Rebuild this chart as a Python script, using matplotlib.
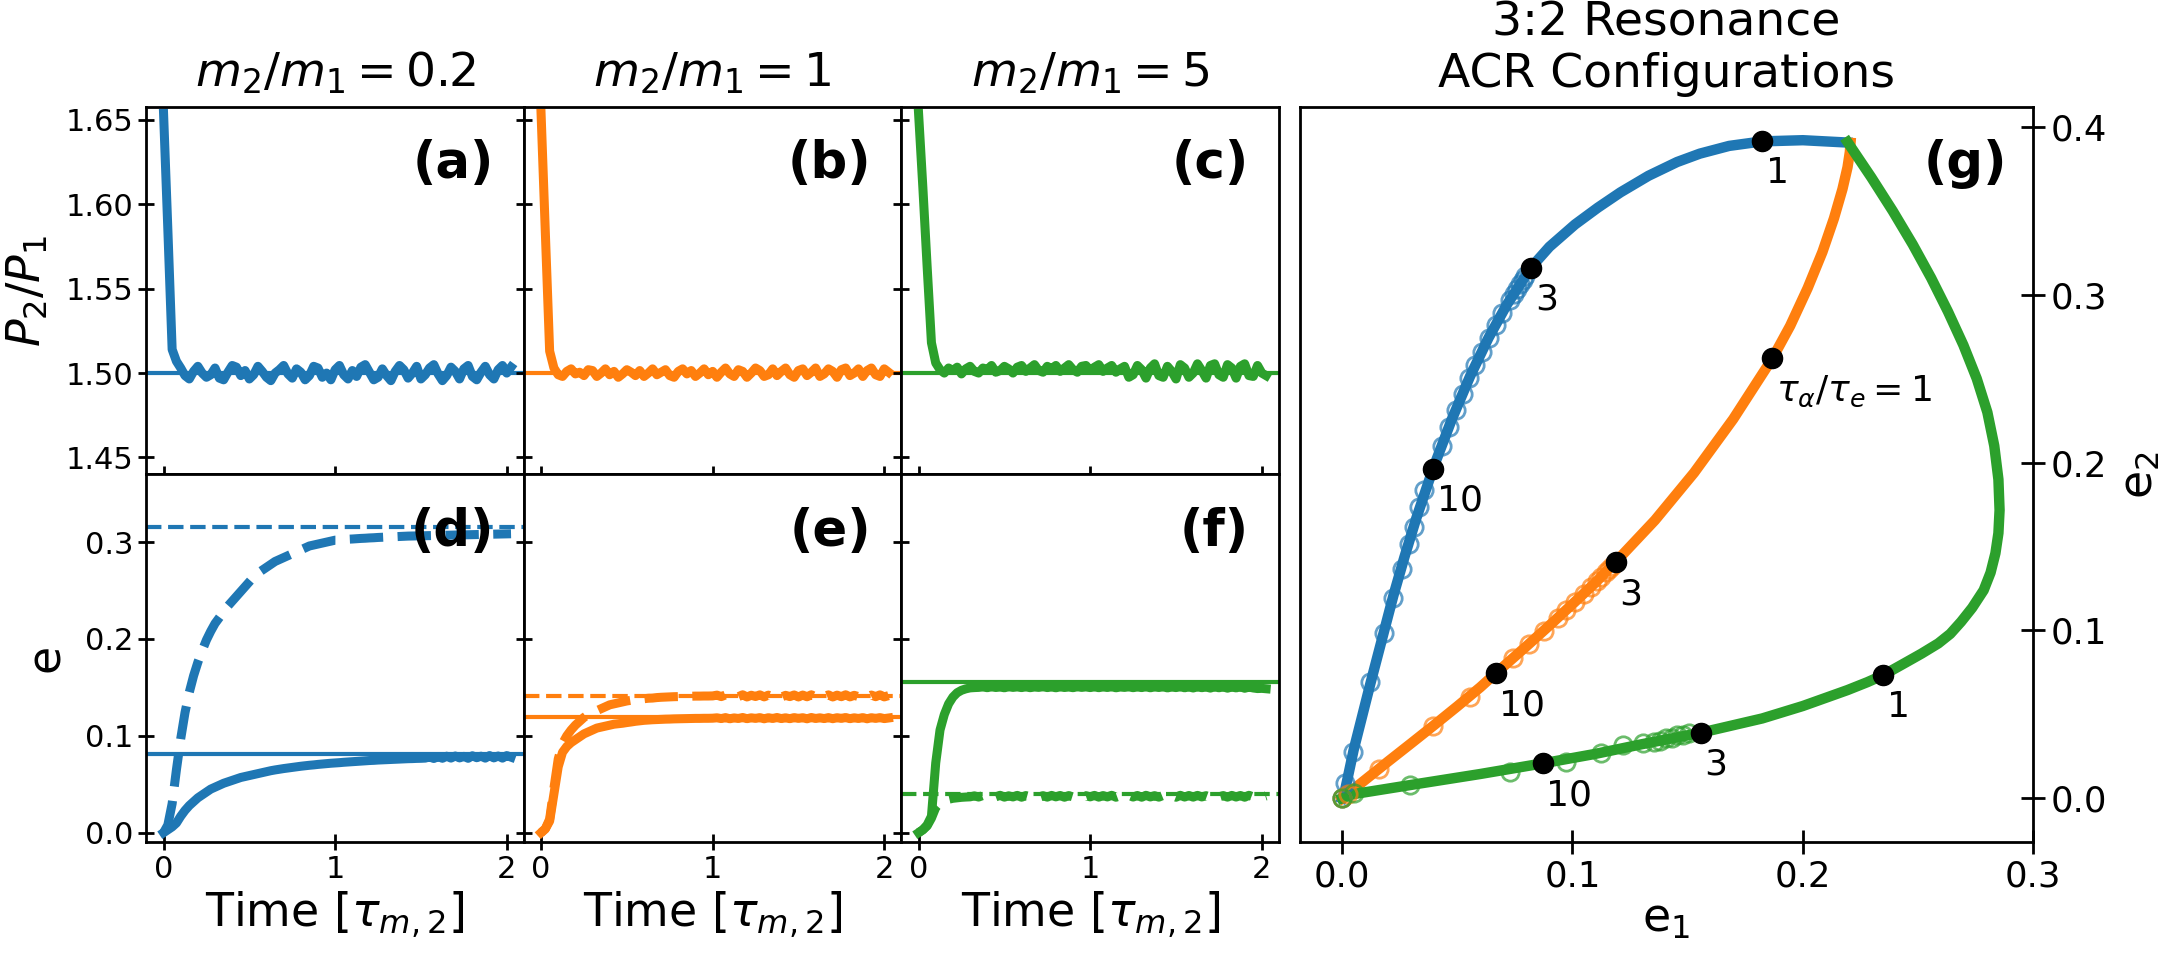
import numpy as np
import matplotlib
matplotlib.use("Agg")
import matplotlib.pyplot as plt

plt.rcParams['font.family'] = ['DejaVu Sans']
plt.rcParams['mathtext.fontset'] = 'dejavusans'

C0, C1, C2 = '#1f77b4', '#ff7f0e', '#2ca02c'

# ---------------- time grid (units of tau_m,2) ----------------
time = np.round(np.arange(0, 2.026, 0.025), 3)

# ---------------- period ratio P2/P1 ----------------
p_ratio_02 = [1.654, 1.585, 1.514, 1.507, 1.503,
    1.4985, 1.4965, 1.5010, 1.5040, 1.5000, 1.4975, 1.4990, 1.5030, 1.4970, 1.4960,
    1.5005, 1.5045, 1.5035, 1.4985, 1.5015, 1.4965, 1.4990, 1.5040, 1.5010, 1.4975,
    1.4955, 1.5000, 1.5020, 1.5045, 1.4995, 1.4970, 1.5025, 1.5005, 1.4960, 1.4985,
    1.5040, 1.5030, 1.4975, 1.5000, 1.4960, 1.5020,
    1.5045, 1.4990, 1.4965, 1.5015, 1.4980, 1.5035, 1.5050, 1.5005, 1.4960, 1.4975,
    1.5025, 1.4985, 1.4955, 1.5010, 1.5045, 1.5020, 1.4970, 1.5000, 1.5040, 1.4965,
    1.4990, 1.5030, 1.5050, 1.4995, 1.4955, 1.4985, 1.5035, 1.5010, 1.4965, 1.5025,
    1.5045, 1.4980, 1.4960, 1.5005, 1.5040, 1.4990, 1.4965, 1.5020, 1.5045, 1.5000,
    1.5035]
p_ratio_1 = [1.654, 1.583, 1.513, 1.503, 1.4990,
    1.4980, 1.5010, 1.5025, 1.4995, 1.5005, 1.4985, 1.5020, 1.5015, 1.4980, 1.5000,
    1.5025, 1.4990, 1.5010, 1.4975, 1.4995, 1.5020, 1.5005, 1.4985, 1.5015, 1.4980,
    1.5000, 1.5025, 1.4990, 1.5005, 1.5020, 1.4985, 1.4975, 1.5010, 1.5025, 1.4995,
    1.5015, 1.4980, 1.5000, 1.5025, 1.4990, 1.5010,
    1.4975, 1.5005, 1.5030, 1.4995, 1.4980, 1.5020, 1.5010, 1.4975, 1.5000, 1.5030,
    1.5015, 1.4980, 1.4990, 1.5025, 1.4985, 1.5010, 1.5030, 1.4990, 1.4975, 1.5015,
    1.5025, 1.4985, 1.5005, 1.5030, 1.4980, 1.4995, 1.5025, 1.5010, 1.4975, 1.5020,
    1.5030, 1.4985, 1.5000, 1.5025, 1.4980, 1.5015, 1.5030, 1.4990, 1.4980, 1.5025,
    1.5005]
p_ratio_5 = [1.654, 1.610, 1.563, 1.518, 1.506,
    1.5020, 1.5000, 1.5030, 1.5015, 1.5035, 1.4995, 1.5025, 1.5040, 1.5010, 1.5000,
    1.5030, 1.5020, 1.5045, 1.5005, 1.5015, 1.5040, 1.5025, 1.5000, 1.5035, 1.5045,
    1.5010, 1.5030, 1.5050, 1.5015, 1.5005, 1.5040, 1.5025, 1.5045, 1.5010, 1.5030,
    1.5050, 1.5020, 1.5005, 1.5040, 1.5045, 1.5015,
    1.5035, 1.5050, 1.5010, 1.5030, 1.5045, 1.5005, 1.5025, 1.5040, 1.4975, 1.4990,
    1.5045, 1.5020, 1.4970, 1.5030, 1.5055, 1.4985, 1.4975, 1.5040, 1.5010, 1.4965,
    1.5050, 1.5030, 1.4975, 1.5000, 1.5055, 1.5015, 1.4970, 1.5045, 1.5055, 1.4990,
    1.4975, 1.5050, 1.5030, 1.4970, 1.5040, 1.5055, 1.4985, 1.4980, 1.5045, 1.5000,
    1.4985]

# ---------------- eccentricities ----------------
e1_02 = [0.000, 0.003, 0.006, 0.010, 0.017, 0.023, 0.028, 0.032, 0.036, 0.039,
    0.042, 0.045, 0.047, 0.049, 0.051, 0.0525, 0.054, 0.0555, 0.057, 0.058,
    0.059, 0.060, 0.061, 0.062, 0.063, 0.064, 0.0648, 0.0655, 0.0662, 0.0668,
    0.0674, 0.068, 0.0686, 0.0691, 0.0696, 0.070, 0.0705, 0.0709, 0.0713, 0.0717,
    0.072,
    0.0723, 0.0727, 0.073, 0.0733, 0.0736, 0.0739, 0.0742, 0.0745, 0.0747, 0.0750,
    0.0752, 0.0754, 0.0756, 0.0758, 0.0760, 0.0762, 0.0764, 0.0765, 0.0767, 0.0768,
    0.0770, 0.0782, 0.0766, 0.0786, 0.0768, 0.0790, 0.0770, 0.0792, 0.0772, 0.0788,
    0.0768, 0.0794, 0.0774, 0.0790, 0.0770, 0.0796, 0.0772, 0.0792, 0.0770, 0.0796,
    0.0780]
e2_02 = [0.000, 0.008, 0.030, 0.065, 0.097, 0.124, 0.145, 0.162, 0.176, 0.188,
    0.199, 0.208, 0.216, 0.222, 0.228, 0.234, 0.239, 0.244, 0.249, 0.254,
    0.259, 0.264, 0.268, 0.271, 0.274, 0.277, 0.280, 0.282, 0.284, 0.286,
    0.288, 0.290, 0.292, 0.294, 0.296, 0.297, 0.298, 0.299, 0.300, 0.301,
    0.302,
    0.302, 0.3025, 0.303, 0.3032, 0.3035, 0.3038, 0.304, 0.3043, 0.3045, 0.3048,
    0.305, 0.3052, 0.3054, 0.3056, 0.3058, 0.306, 0.3062, 0.3063, 0.3064, 0.3065,
    0.3066, 0.3067, 0.3068, 0.3069, 0.307, 0.3071, 0.3072, 0.3073, 0.3074, 0.3075,
    0.3076, 0.3077, 0.3078, 0.3079, 0.308, 0.3081, 0.3082, 0.3083, 0.3084, 0.3085,
    0.3086]
e1_1 = [0.000, 0.004, 0.012, 0.040, 0.068, 0.083, 0.089, 0.093, 0.096, 0.099,
    0.102, 0.104, 0.106, 0.108, 0.109, 0.110, 0.111, 0.112, 0.1125, 0.113,
    0.1137, 0.1143, 0.115, 0.1155, 0.116, 0.1163, 0.1166, 0.1168, 0.117, 0.1172,
    0.1173, 0.1175, 0.1176, 0.1177, 0.1178, 0.1179, 0.118, 0.118, 0.1181, 0.1181,
    0.1182,
    0.1186, 0.1178, 0.1188, 0.1176, 0.1185, 0.1179, 0.1189, 0.1177, 0.1186, 0.1180,
    0.1188, 0.1176, 0.1187, 0.1179, 0.1189, 0.1178, 0.1186, 0.1177, 0.1188, 0.1180,
    0.1187, 0.1176, 0.1189, 0.1179, 0.1186, 0.1178, 0.1188, 0.1177, 0.1187, 0.1180,
    0.1189, 0.1177, 0.1186, 0.1179, 0.1188, 0.1176, 0.1187, 0.1180, 0.1188, 0.1178,
    0.1184]
e2_1 = [0.000, 0.004, 0.014, 0.046, 0.076, 0.092, 0.100, 0.106, 0.111, 0.115,
    0.119, 0.122, 0.124, 0.126, 0.128, 0.130, 0.132, 0.133, 0.134, 0.135,
    0.136, 0.1367, 0.1373, 0.1378, 0.1383, 0.1388, 0.139, 0.1395, 0.1398, 0.140,
    0.1402, 0.1404, 0.1405, 0.1407, 0.1408, 0.1409, 0.141, 0.141, 0.1411, 0.1411,
    0.1412,
    0.1420, 0.1405, 0.1422, 0.1402, 0.1418, 0.1404, 0.1424, 0.1401, 0.1419, 0.1406,
    0.1423, 0.1402, 0.1420, 0.1404, 0.1424, 0.1400, 0.1418, 0.1405, 0.1422, 0.1401,
    0.1421, 0.1403, 0.1424, 0.1402, 0.1419, 0.1405, 0.1423, 0.1401, 0.1420, 0.1404,
    0.1424, 0.1402, 0.1418, 0.1405, 0.1422, 0.1400, 0.1421, 0.1404, 0.1423, 0.1402,
    0.1415]
e1_5 = [0.000, 0.003, 0.008, 0.017, 0.072, 0.106, 0.122, 0.133, 0.140, 0.1445,
    0.147, 0.1485, 0.1495, 0.1498, 0.150,
    0.1505, 0.1497, 0.1506, 0.1499, 0.1504, 0.1496, 0.1507, 0.1500, 0.1505, 0.1498,
    0.1506, 0.1497, 0.1504, 0.1500, 0.1507, 0.1498, 0.1505, 0.1496, 0.1506, 0.1499,
    0.1504, 0.1497, 0.1507, 0.1500, 0.1505, 0.1498,
    0.1506, 0.1497, 0.1505, 0.1499, 0.1507, 0.1496, 0.1504, 0.1500, 0.1506, 0.1497,
    0.1505, 0.1498, 0.1507, 0.1496, 0.1505, 0.1499, 0.1506, 0.1495, 0.1504, 0.1498,
    0.1507, 0.1496, 0.1505, 0.1494, 0.1506, 0.1497, 0.1504, 0.1493, 0.1506, 0.1496,
    0.1505, 0.1492, 0.1504, 0.1495, 0.1506, 0.1491, 0.1503, 0.1494, 0.1488, 0.1490,
    0.1486]
e2_5 = [0.000, 0.003, 0.007, 0.015, 0.026, 0.031, 0.033, 0.0345, 0.0355, 0.036,
    0.0365, 0.0368, 0.037,
    0.0380, 0.0368, 0.0384, 0.0366, 0.0382, 0.0370, 0.0386, 0.0367, 0.0381, 0.0369,
    0.0385, 0.0366, 0.0383, 0.0371, 0.0386, 0.0368, 0.0382, 0.0367, 0.0385, 0.0370,
    0.0384, 0.0366, 0.0383, 0.0369, 0.0386, 0.0367, 0.0382, 0.0370,
    0.0385, 0.0367, 0.0383, 0.0369, 0.0386, 0.0366, 0.0382, 0.0370, 0.0385, 0.0368,
    0.0384, 0.0366, 0.0386, 0.0369, 0.0382, 0.0367, 0.0385, 0.0370, 0.0383, 0.0366,
    0.0386, 0.0368, 0.0384, 0.0367, 0.0385, 0.0369, 0.0382, 0.0366, 0.0386, 0.0370,
    0.0383, 0.0367, 0.0385, 0.0368, 0.0384, 0.0366, 0.0386, 0.0369, 0.0383, 0.0367,
    0.0380]

# ACR (equilibrium) eccentricities for each mass ratio
acr_e1 = [0.0813, 0.119, 0.156]
acr_e2 = [0.316, 0.1415, 0.040]

mass_ratio_titles = [r'$m_2/m_1 = 0.2$', r'$m_2/m_1 = 1$', r'$m_2/m_1 = 5$']
top_letters = ['(a)', '(b)', '(c)']
bottom_letters = ['(d)', '(e)', '(f)']

# ---------------- panel (g): ACR curves in (e1, e2) ----------------
acr_curve_02_e1 = [0.0, 0.0013, 0.005, 0.0123, 0.0222, 0.027, 0.032, 0.0358, 0.0395,
                   0.0475, 0.0555, 0.0635, 0.0715, 0.0821, 0.090, 0.1011, 0.111,
                   0.1208, 0.133, 0.1454, 0.1553, 0.168, 0.1824, 0.200, 0.2194]
acr_curve_02_e2 = [0.0, 0.005, 0.0288, 0.0685, 0.1205, 0.1435, 0.166, 0.1815, 0.1965,
                   0.2254, 0.2513, 0.2742, 0.2941, 0.3164, 0.3286, 0.3419, 0.3519,
                   0.361, 0.3709, 0.3791, 0.3841, 0.3887, 0.3914, 0.3921, 0.3907]
acr_curve_1_e1 = [0.0, 0.01, 0.02, 0.03, 0.04, 0.05, 0.06, 0.0666, 0.08, 0.09, 0.10,
                  0.11, 0.1188, 0.1358, 0.1528, 0.1698, 0.1868, 0.1945, 0.2021, 0.2085,
                  0.2135, 0.2172, 0.2194, 0.2204, 0.2207]
acr_curve_1_e2 = [0.0, 0.011, 0.022, 0.0328, 0.0437, 0.0548, 0.0662, 0.0744, 0.0906,
                  0.1030, 0.1157, 0.1286, 0.1409, 0.1657, 0.1940, 0.2260, 0.2621,
                  0.2815, 0.3040, 0.3255, 0.3455, 0.3630, 0.3760, 0.3850, 0.3905]
acr_curve_5_e1 = [0.0, 0.005, 0.03, 0.06, 0.087, 0.11, 0.13, 0.1558, 0.1824, 0.200,
                  0.2194, 0.228, 0.2349, 0.244, 0.2515, 0.2588, 0.264, 0.2687, 0.2735,
                  0.2785, 0.2815, 0.2836, 0.2849, 0.2854, 0.2849, 0.2831, 0.2801,
                  0.2755, 0.2697, 0.2630, 0.2557, 0.2477, 0.2390, 0.2297, 0.2194]
acr_curve_5_e2 = [0.0, 0.0025, 0.008, 0.0145, 0.0208, 0.0265, 0.0322, 0.0391, 0.0476,
                  0.0550, 0.0645, 0.0692, 0.0734, 0.0804, 0.0862, 0.0923, 0.098,
                  0.1052, 0.1135, 0.124, 0.1345, 0.146, 0.158, 0.1717, 0.19, 0.21,
                  0.23, 0.25, 0.27, 0.29, 0.31, 0.33, 0.35, 0.37, 0.391]

# simulation end states (open circles)
sim_02_e1 = [0.0, 0.0013, 0.0049, 0.0123, 0.018, 0.0222, 0.0259, 0.0291, 0.0313, 0.0333,
             0.0357, 0.0395, 0.0432, 0.0463, 0.0493, 0.0523, 0.0552, 0.0579, 0.0607,
             0.0636, 0.0666, 0.0695, 0.0727, 0.0745, 0.0759, 0.0772, 0.0784, 0.0795]
sim_02_e2 = [0.0, 0.0089, 0.0278, 0.0694, 0.0986, 0.1191, 0.1365, 0.1515, 0.1614, 0.1735,
             0.1835, 0.1965, 0.2098, 0.221, 0.2313, 0.241, 0.2503, 0.2583, 0.2661,
             0.2744, 0.2818, 0.2889, 0.2967, 0.3007, 0.3037, 0.3066, 0.3091, 0.3113]
sim_1_e1 = [0.0, 0.0025, 0.016, 0.0395, 0.0555, 0.0666, 0.074, 0.0813, 0.0875, 0.0937,
            0.0973, 0.1011, 0.1048, 0.108, 0.1105, 0.1122, 0.1145, 0.1158, 0.117]
sim_1_e2 = [0.0, 0.0028, 0.0176, 0.0432, 0.0605, 0.0744, 0.0834, 0.0922, 0.0999, 0.1076,
            0.1122, 0.1171, 0.1219, 0.126, 0.1292, 0.1316, 0.1348, 0.1367, 0.1383]
sim_5_e1 = [0.0, 0.005, 0.0296, 0.0727, 0.087, 0.0973, 0.1122, 0.122, 0.1306, 0.1356,
            0.138, 0.1405, 0.143, 0.1454, 0.148, 0.1504]
sim_5_e2 = [0.0, 0.003, 0.0079, 0.0158, 0.0208, 0.0218, 0.0268, 0.0317, 0.0328, 0.0337,
            0.0343, 0.0357, 0.0362, 0.0377, 0.0375, 0.0387]

# tau_a / tau_e markers
mark_02_e1 = [0.0395, 0.0821, 0.1824]
mark_02_e2 = [0.1965, 0.3162, 0.3917]
mark_02_lab = ['10', '3', '1']
mark_1_e1 = [0.0666, 0.1188, 0.1868]
mark_1_e2 = [0.0744, 0.1409, 0.2621]
mark_1_lab = ['10', '3', r'$\tau_\alpha/\tau_e = 1$']
mark_5_e1 = [0.087, 0.1558, 0.2349]
mark_5_e2 = [0.0208, 0.0391, 0.0734]
mark_5_lab = ['10', '3', '1']

# ---------------- figure ----------------
W, H = 2170, 957
fig = plt.figure(figsize=(W / 100, H / 100), dpi=100)

def rect(l, t, r, b):
    return [l / W, 1 - b / H, (r - l) / W, (b - t) / H]

col_edges = [146.4, 523.9, 901.4, 1279.0]
row_top = (107.0, 474.3)
row_bot = (474.3, 841.7)

colors = [C0, C1, C2]
p_series = [p_ratio_02, p_ratio_1, p_ratio_5]
e1_series = [e1_02, e1_1, e1_5]
e2_series = [e2_02, e2_1, e2_5]

LW = 6.5
TICK_FS = 22
LABEL_FS = 33

for i in range(3):
    l, r = col_edges[i], col_edges[i + 1]
    axt = fig.add_axes(rect(l, row_top[0], r, row_top[1]))
    axb = fig.add_axes(rect(l, row_bot[0], r, row_bot[1]))
    c = colors[i]

    axt.axhline(1.5, color=c, lw=3)
    axt.plot(time, p_series[i], color=c, lw=LW)
    axt.set_xlim(-0.1, 2.1)
    axt.set_ylim(1.44, 1.6577)
    axt.set_yticks([1.45, 1.50, 1.55, 1.60, 1.65])
    axt.set_xticks([0, 1, 2])
    axt.set_xticklabels([])
    axt.set_title(mass_ratio_titles[i], fontsize=34, pad=15)
    axt.text(0.921, 0.845, top_letters[i], transform=axt.transAxes, ha='right',
             va='center', fontsize=37, fontweight='bold')

    axb.axhline(acr_e1[i], color=c, lw=3)
    axb.axhline(acr_e2[i], color=c, lw=3, ls='--')
    axb.plot(time, e1_series[i], color=c, lw=LW)
    axb.plot(time, e2_series[i], color=c, lw=LW, ls='--')
    axb.set_xlim(-0.1, 2.1)
    axb.set_ylim(-0.0093, 0.370)
    axb.set_yticks([0.0, 0.1, 0.2, 0.3])
    axb.set_xticks([0, 1, 2])
    axb.set_xlabel(r'Time [$\tau_{m,2}$]', fontsize=LABEL_FS)
    axb.text(0.921, 0.844, bottom_letters[i], transform=axb.transAxes, ha='right',
             va='center', fontsize=37, fontweight='bold')

    for ax in (axt, axb):
        ax.tick_params(direction='inout', length=12, width=2, labelsize=TICK_FS)
        for s in ax.spines.values():
            s.set_linewidth(2)
    if i == 0:
        axt.set_yticklabels(['1.45', '1.50', '1.55', '1.60', '1.65'])
        axb.set_yticklabels(['0.0', '0.1', '0.2', '0.3'])
        axt.set_ylabel(r'$P_2/P_1$', fontsize=LABEL_FS, labelpad=11)
        axb.set_ylabel('e', fontsize=LABEL_FS, labelpad=11)
    else:
        axt.set_yticklabels([])
        axb.set_yticklabels([])

# ---------------- panel (g) ----------------
axg = fig.add_axes(rect(1299.5, 106.8, 2033.2, 842.3))
curves = [(acr_curve_02_e1, acr_curve_02_e2), (acr_curve_1_e1, acr_curve_1_e2),
          (acr_curve_5_e1, acr_curve_5_e2)]
sims = [(sim_02_e1, sim_02_e2), (sim_1_e1, sim_1_e2), (sim_5_e1, sim_5_e2)]
marks = [(mark_02_e1, mark_02_e2, mark_02_lab), (mark_1_e1, mark_1_e2, mark_1_lab),
         (mark_5_e1, mark_5_e2, mark_5_lab)]
for (cx, cy), c in zip(curves, colors):
    axg.plot(cx, cy, color=c, lw=7.5, zorder=2, solid_joinstyle='round')
for (sx, sy), c in zip(sims, colors):
    axg.plot(sx, sy, 'o', mfc='none', mec=c, ms=12.5, mew=2, alpha=0.7, zorder=3)
for mx, my, ml in marks:
    axg.plot(mx, my, 'o', color='black', ms=14.5, zorder=5)
    for x, y, s in zip(mx, my, ml):
        axg.annotate(s, (x, y), xytext=(2.5, -11), textcoords='offset points',
                     ha='left', va='top', fontsize=26, zorder=6)
axg.set_xlim(-0.0185, 0.3)
axg.set_ylim(-0.0262, 0.412)
axg.set_xticks([0.0, 0.1, 0.2, 0.3])
axg.set_xticklabels(['0.0', '0.1', '0.2', '0.3'])
axg.set_yticks([0.0, 0.1, 0.2, 0.3, 0.4])
axg.set_yticklabels(['0.0', '0.1', '0.2', '0.3', '0.4'])
axg.yaxis.tick_right()
axg.yaxis.set_label_position('right')
axg.tick_params(direction='inout', length=17.5, width=2, labelsize=25.5)
for s in axg.spines.values():
    s.set_linewidth(2)
axg.set_xlabel('e$_1$', fontsize=LABEL_FS, labelpad=2)
axg.set_ylabel('e$_2$', fontsize=LABEL_FS, labelpad=8)
axg.set_title('3:2 Resonance\nACR Configurations', fontsize=34, pad=14)
axg.text(0.9647, 0.922, '(g)', transform=axg.transAxes, ha='right', va='center',
         fontsize=37, fontweight='bold')

fig.savefig('out.png', dpi=100)
